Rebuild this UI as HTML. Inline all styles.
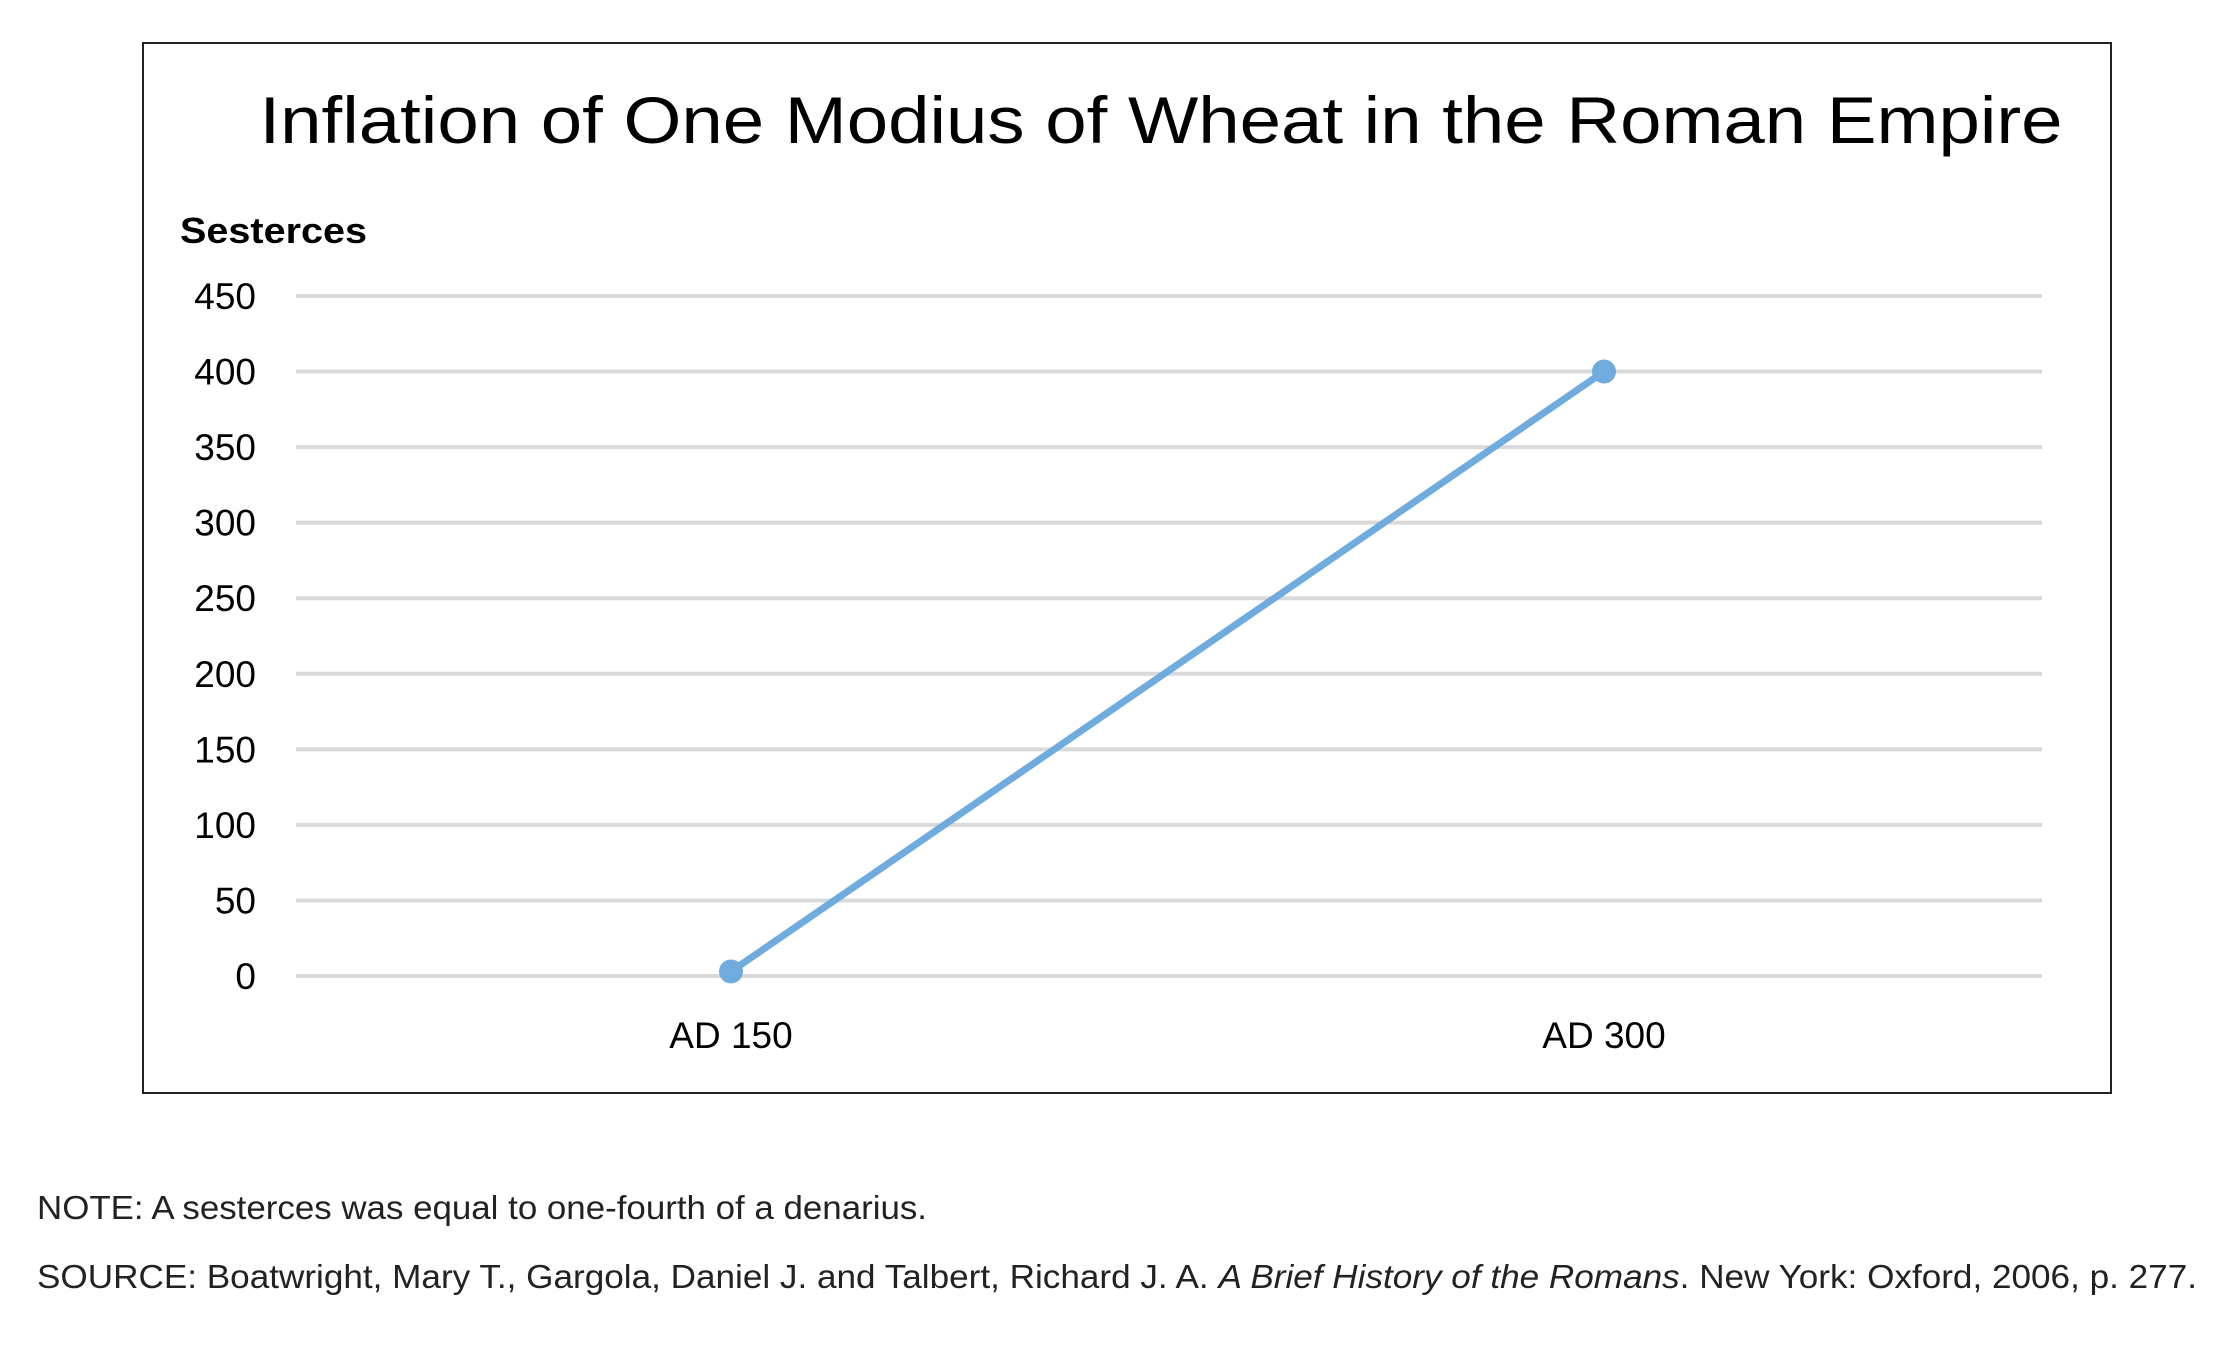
<!DOCTYPE html>
<html><head><meta charset="utf-8"><style>
html,body{margin:0;padding:0;background:#fff;}
svg{display:block;font-family:"Liberation Sans",sans-serif;}
</style></head><body>
<svg id="chart" width="2232" height="1352" viewBox="0 0 2232 1352">
<rect x="143" y="43" width="1968" height="1050" fill="#fff" stroke="#222" stroke-width="2"/>
<text x="1161" y="143" text-anchor="middle" font-size="66" textLength="1803" lengthAdjust="spacingAndGlyphs" fill="#000">Inflation of One Modius of Wheat in the Roman Empire</text>
<text x="180" y="243" font-size="36" font-weight="bold" textLength="187" lengthAdjust="spacingAndGlyphs" fill="#000">Sesterces</text>
<g id="grid"></g>
<g id="series"></g>
<text x="37" y="1219" font-size="33" textLength="890" lengthAdjust="spacingAndGlyphs" fill="#222">NOTE: A sesterces was equal to one-fourth of a denarius.</text>
<text x="37" y="1288" font-size="33" textLength="2160" lengthAdjust="spacingAndGlyphs" fill="#222">SOURCE: Boatwright, Mary T., Gargola, Daniel J. and Talbert, Richard J. A. <tspan font-style="italic">A Brief History of the Romans</tspan>. New York: Oxford, 2006, p. 277.</text>
</svg>
<script>
const categories = ["AD 150", "AD 300"];
const values = [3, 400];
const yTicks = [0, 50, 100, 150, 200, 250, 300, 350, 400, 450];

const NS = "http://www.w3.org/2000/svg";
const plotLeft = 296, plotRight = 2042, yBottom = 976, yTop = 296, yMax = 450;
function yScale(v){ return yBottom - (v / yMax) * (yBottom - yTop); }
const catStart = 731, catStep = 873;
function xScale(i){ return catStart + i * catStep; }

const grid = document.getElementById("grid");
yTicks.forEach(t => {
  const l = document.createElementNS(NS, "line");
  l.setAttribute("x1", plotLeft); l.setAttribute("x2", plotRight);
  l.setAttribute("y1", yScale(t)); l.setAttribute("y2", yScale(t));
  l.setAttribute("stroke", "#d9d9d9"); l.setAttribute("stroke-width", "4");
  
  
  grid.appendChild(l);
  const tx = document.createElementNS(NS, "text");
  tx.setAttribute("x", 256); tx.setAttribute("y", yScale(t) + 13);
  tx.setAttribute("text-anchor", "end"); tx.setAttribute("font-size", "37");
  tx.textContent = t;
  
  
  grid.appendChild(tx);
});
categories.forEach((c, i) => {
  const tx = document.createElementNS(NS, "text");
  tx.setAttribute("x", xScale(i)); tx.setAttribute("y", 1048);
  tx.setAttribute("text-anchor", "middle"); tx.setAttribute("font-size", "37");
  tx.textContent = c;
  
  
  grid.appendChild(tx);
});

const series = document.getElementById("series");
const pl = document.createElementNS(NS, "polyline");
pl.setAttribute("points", values.map((v, i) => xScale(i) + "," + yScale(v)).join(" "));
pl.setAttribute("fill", "none"); pl.setAttribute("stroke", "#6fabdd"); pl.setAttribute("stroke-width", "7");


series.appendChild(pl);
values.forEach((v, i) => {
  const c = document.createElementNS(NS, "circle");
  c.setAttribute("cx", xScale(i)); c.setAttribute("cy", yScale(v)); c.setAttribute("r", "12");
  c.setAttribute("fill", "#6fabdd");
  
  
  series.appendChild(c);
});
</script>
</body></html>
